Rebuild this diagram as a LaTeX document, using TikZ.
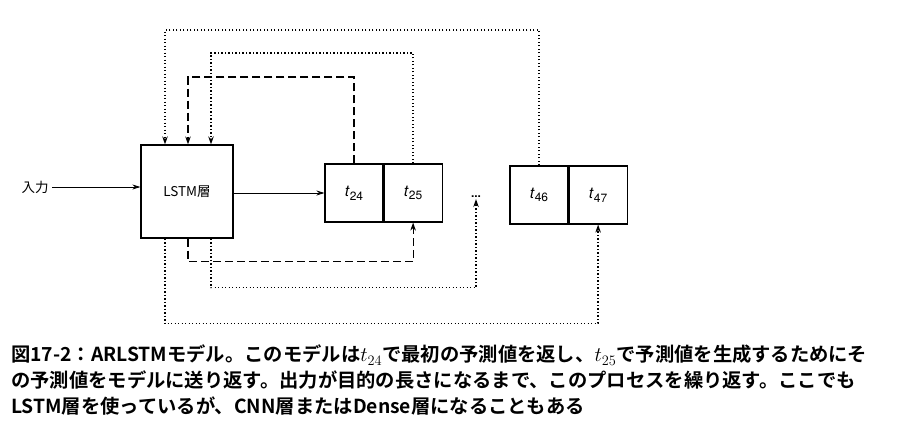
\documentclass[tikz,border=0pt]{standalone}
\usepackage{fontspec}
\setsansfont{TeX Gyre Heros}
\newfontfamily\jpfont{Noto Sans CJK JP}
\newfontfamily\jpbold{Noto Sans CJK JP Bold}
\usetikzlibrary{positioning, arrows.meta}

\newcommand{\tlabel}[1]{\textit{t}\raisebox{-0.45ex}{\fontsize{12}{12}\selectfont #1}}

\begin{document}
\begin{tikzpicture}[
        x=1pt, y=-1pt,
        layer/.style={rectangle, draw, line width=1.2pt, minimum width=92pt, minimum height=93pt, align=center, font=\jpfont\fontsize{13.5}{15}\selectfont},
        cell/.style={rectangle, draw, line width=1.1pt, minimum width=58pt, minimum height=58pt, inner sep=0pt, font=\sffamily\fontsize{15.5}{17}\selectfont},
        arrow/.style={-{Stealth[length=8pt, width=5pt]}, line width=0.8pt},
        dashline/.style={-{Stealth[length=8pt, width=5.5pt]}, line width=1.1pt, dash pattern=on 8pt off 4pt},
        dotline/.style={-{Stealth[length=8pt, width=5.5pt]}, line width=1.6pt, dash pattern=on 1.4pt off 2.1pt}
    ]
    \useasboundingbox (0,0) rectangle (901,442);

    % Nodes
    \node[layer] (lstm) at (187,191.5) {LSTM層};
    \node[cell] (t24) at (354,193) {\tlabel{24}};
    \node[cell, right=0pt of t24] (t25) {\tlabel{25}};
    \node[font=\sffamily\bfseries\fontsize{12}{12}\selectfont, inner sep=1pt] (dots) at (476,197) {...};
    \node[cell] (t46) at (539,195) {\tlabel{46}};
    \node[cell, right=0pt of t46] (t47) {\tlabel{47}};

    % Input
    \node[font=\jpfont\fontsize{13.5}{15}\selectfont] (inlabel) at (35,187) {入力};
    \draw[arrow] (inlabel) -- (inlabel -| lstm.west);
    \draw[arrow] (lstm.east |- t24) -- (t24);

    % Feedback over the top
    \draw[dashline] (t24.north) -- (t24.north |- 0,77) -| ([xshift=1pt]lstm.north);
    \draw[dotline] (t25.north) -- (t25.north |- 0,53) -| ([xshift=24pt]lstm.north);
    \draw[dotline] (t46.north) -- (t46.north |- 0,30) -| ([xshift=-22pt]lstm.north);

    % Feedback underneath
    \draw[dashline] ([xshift=1pt]lstm.south) -- ++(0,23) -| (t25.south);
    \draw[dotline] ([xshift=24pt]lstm.south) -- ++(0,49) -| (dots.south);
    \draw[dotline] ([xshift=-22pt]lstm.south) -- ++(0,85) -| (t47.south);

    % Caption
    \node[anchor=north west, align=left, inner sep=0pt, font=\jpbold\fontsize{19.3}{26}\selectfont] (caption) at (11,345)
        {図17-2：ARLSTMモデル。このモデルは$t_{24}$で最初の予測値を返し、$t_{25}$で予測値を生成するためにそ\\
         の予測値をモデルに送り返す。出力が目的の長さになるまで、このプロセスを繰り返す。ここでも\\
         LSTM層を使っているが、CNN層またはDense層になることもある};

\end{tikzpicture}
\end{document}
